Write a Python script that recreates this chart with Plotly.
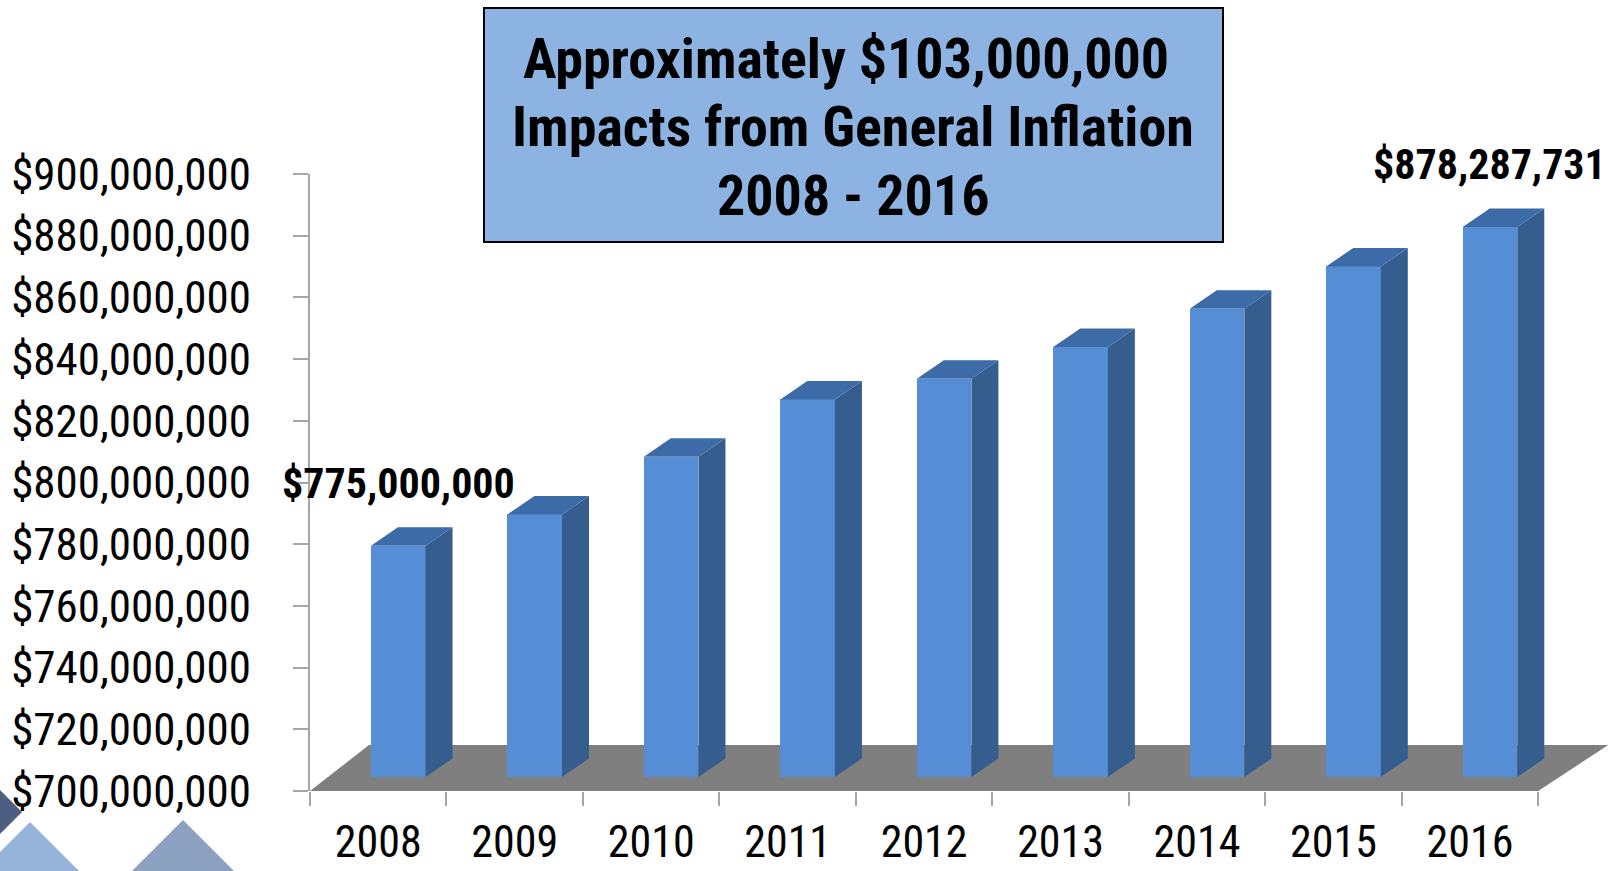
import plotly.graph_objects as go

# ---- data ----
years = ["2008", "2009", "2010", "2011", "2012", "2013", "2014", "2015", "2016"]
budget = [775_000_000, 785_100_000, 803_800_000, 822_400_000, 829_100_000,
          839_400_000, 851_800_000, 865_500_000, 878_287_731]
y_tick_values = list(range(700_000_000, 900_000_001, 20_000_000))
y_tick_labels = [f"${v:,}" for v in y_tick_values]
labeled_years = ["2008", "2016"]
title_lines = ["Approximately $103,000,000", "Impacts from General Inflation", "2008 - 2016"]

# ---- canvas and plot area (pixels) ----
W, H = 1616, 871
AX_LEFT, AX_RIGHT = 310, 1616
AX_TOP, AX_BOTTOM = 174, 791
X_RANGE = [-0.5, 9.07]
Y_RANGE = [y_tick_values[0], y_tick_values[-1]]
px_per_cat = (AX_RIGHT - AX_LEFT) / (X_RANGE[1] - X_RANGE[0])
px_per_val = (AX_BOTTOM - AX_TOP) / (Y_RANGE[1] - Y_RANGE[0])

# ---- 3-D look (pixels) ----
BAR_SHIFT_PX, BAR_LIFT_PX = 20, 14        # bars stand in the middle of the floor depth
TOP_DX_PX, TOP_DY_PX = 27, 18.5           # bar depth
FLOOR_DX_LEFT_PX, FLOOR_DX_RIGHT_PX, FLOOR_DY_PX = 59, 70, 46
BAR_WIDTH = 0.4

FRONT = "#558ED5"
SIDE = "#355E8F"
TOP = "#3D6BA8"
FLOOR = "#7F7F7F"
AXIS_GREY = "#A6A6A6"
NARROW_FONT = "Liberation Sans Narrow, Arial Narrow, Roboto Condensed, sans-serif"

s = BAR_SHIFT_PX / px_per_cat
d = BAR_LIFT_PX / px_per_val
tdx = TOP_DX_PX / px_per_cat
tdy = TOP_DY_PX / px_per_val
base = Y_RANGE[0]
xs = list(range(len(years)))


def px_x(p):
    return p / W


def px_y(p):
    return 1 - p / H


fig = go.Figure()

# anchor trace so the visible axes are drawn
fig.add_trace(go.Scatter(x=xs, y=[None] * len(xs), mode="markers",
                         hoverinfo="skip", showlegend=False))

# front faces
fig.add_trace(go.Bar(
    x=xs, y=[v - base for v in budget], base=[base] * len(budget),
    width=BAR_WIDTH, marker=dict(color=FRONT, line=dict(width=0)),
    xaxis="x2", yaxis="y2", hoverinfo="skip", showlegend=False,
))

# side and top faces
side_x, side_y, top_x, top_y = [], [], [], []
for i, v in zip(xs, budget):
    xl, xr = i - BAR_WIDTH / 2, i + BAR_WIDTH / 2
    side_x += [xr, xr + tdx, xr + tdx, xr, xr, None]
    side_y += [base, base + tdy, v + tdy, v, base, None]
    top_x += [xl, xr, xr + tdx, xl + tdx, xl, None]
    top_y += [v, v, v + tdy, v + tdy, v, None]

fig.add_trace(go.Scatter(x=side_x, y=side_y, fill="toself", fillcolor=SIDE,
                         mode="lines", line=dict(width=0, color=SIDE),
                         xaxis="x2", yaxis="y2", hoverinfo="skip", showlegend=False))
fig.add_trace(go.Scatter(x=top_x, y=top_y, fill="toself", fillcolor=TOP,
                         mode="lines", line=dict(width=0, color=TOP),
                         xaxis="x2", yaxis="y2", hoverinfo="skip", showlegend=False))

# floor
fx0 = X_RANGE[0] - s
fx1 = (len(years) - 0.5) - s
fy0 = Y_RANGE[0] - d
fy1 = fy0 + FLOOR_DY_PX / px_per_val
floor_path = (f"M {fx0},{fy0} L {fx1},{fy0} "
              f"L {fx1 + FLOOR_DX_RIGHT_PX / px_per_cat},{fy1} "
              f"L {fx0 + FLOOR_DX_LEFT_PX / px_per_cat},{fy1} Z")
shapes = [dict(type="path", path=floor_path, xref="x2", yref="y2",
               fillcolor=FLOOR, line=dict(width=0), layer="below")]

# slide decoration in the lower-left corner
deco = [
    ("#4B5F80", [(0, 790), (22, 812), (0, 834)]),
    ("#95B3D9", [(30, 822), (80, 872), (-20, 872)]),
    ("#8CA0C0", [(183, 820), (235, 872), (131, 872)]),
]
for color, pts in deco:
    path = "M " + " L ".join(f"{px_x(x)},{px_y(y)}" for x, y in pts) + " Z"
    shapes.append(dict(type="path", path=path, xref="paper", yref="paper",
                       fillcolor=color, line=dict(width=0), layer="below"))

# title box
BOX = (484, 8, 1223, 242)
shapes.append(dict(type="rect", xref="paper", yref="paper",
                   x0=px_x(BOX[0]), x1=px_x(BOX[2]), y0=px_y(BOX[3]), y1=px_y(BOX[1]),
                   fillcolor="#8DB3E2", line=dict(color="#000000", width=2), layer="above"))

annotations = []
title_centres = [(846, 59), (853, 127), (853, 196)]
for text, (cx, cy) in zip(title_lines, title_centres):
    annotations.append(dict(text=text, x=px_x(cx), y=px_y(cy), xref="paper", yref="paper",
                            xanchor="center", yanchor="middle", showarrow=False,
                            font=dict(family=NARROW_FONT, size=56, color="#000000", weight="bold")))

# value labels above the first and last bars
for yr in labeled_years:
    i = years.index(yr)
    v = budget[i]
    annotations.append(dict(text=f"${v:,.0f}", x=i, y=v, xref="x2", yref="y2",
                            xanchor="center", yanchor="middle", yshift=62, showarrow=False,
                            font=dict(family=NARROW_FONT, size=42, color="#000000", weight="bold")))

x_domain = [px_x(AX_LEFT), px_x(AX_RIGHT)]
y_domain = [px_y(AX_BOTTOM), px_y(AX_TOP)]

fig.update_layout(
    width=W, height=H,
    margin=dict(l=0, r=0, t=0, b=0, pad=0),
    paper_bgcolor="white", plot_bgcolor="rgba(0,0,0,0)",
    showlegend=False,
    bargap=0,
    shapes=shapes,
    annotations=annotations,
    xaxis=dict(
        domain=x_domain, range=X_RANGE, showgrid=False, zeroline=False, showline=False,
        tickvals=xs, ticktext=years, ticks="", ticklabelstandoff=21, automargin=False,
        tickfont=dict(family=NARROW_FONT, size=44, color="#000000"),
        minor=dict(tickvals=[i - 0.5 for i in range(len(years) + 1)], ticks="outside",
                   ticklen=14, tickwidth=2, tickcolor=AXIS_GREY, showgrid=False),
        anchor="y",
    ),
    yaxis=dict(
        domain=y_domain, range=Y_RANGE, showgrid=False, zeroline=False,
        showline=True, linecolor=AXIS_GREY, linewidth=2,
        tickvals=y_tick_values, ticktext=y_tick_labels,
        ticks="outside", ticklen=15, tickwidth=2, tickcolor=AXIS_GREY,
        ticklabelstandoff=33, automargin=False,
        tickfont=dict(family=NARROW_FONT, size=45, color="#000000"),
        anchor="x",
    ),
    xaxis2=dict(domain=x_domain, range=[X_RANGE[0] - s, X_RANGE[1] - s],
                overlaying="x", visible=False, anchor="y2", automargin=False),
    yaxis2=dict(domain=y_domain, range=[Y_RANGE[0] - d, Y_RANGE[1] - d],
                overlaying="y", visible=False, anchor="x2", automargin=False),
)

fig.write_html("out.html")
